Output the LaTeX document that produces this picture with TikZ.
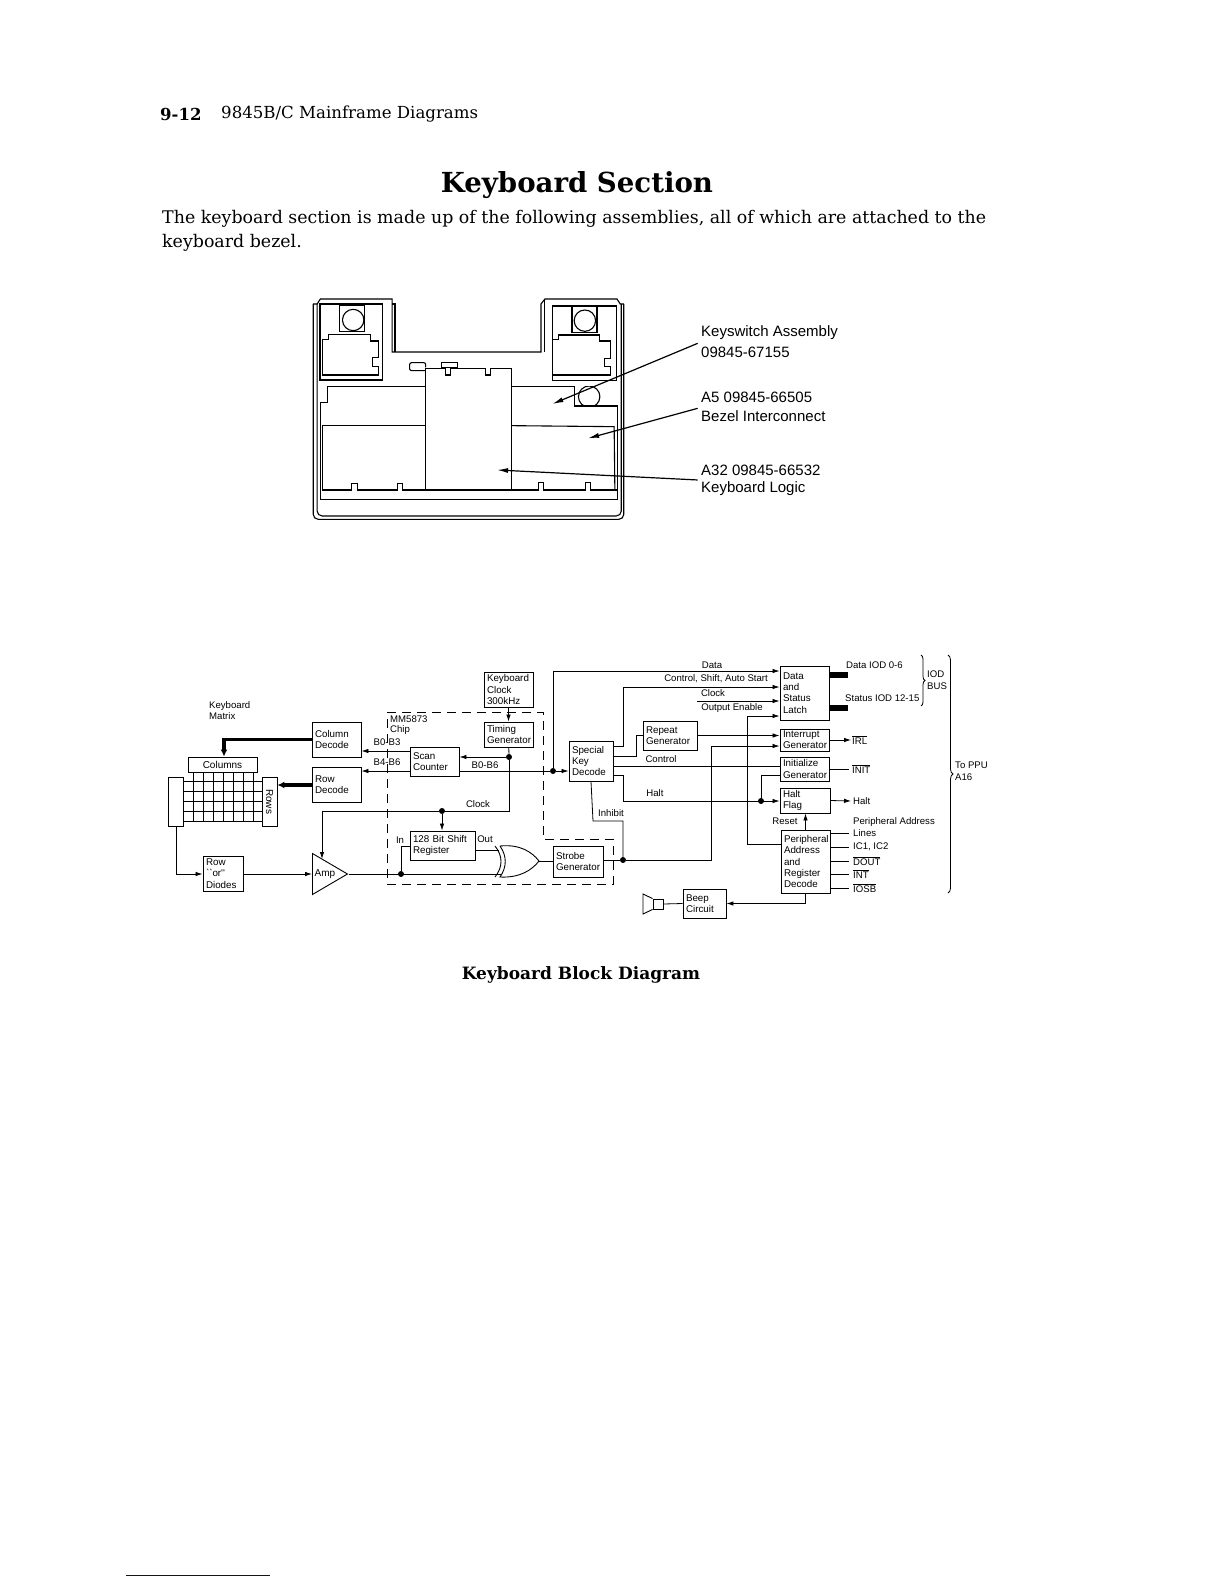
\documentclass[tikz,border=0pt]{standalone}
\usepackage{fontspec}
\setmainfont{DejaVu Serif}
\newfontfamily\labelfont{Liberation Sans}
\usetikzlibrary{arrows.meta,positioning,shapes.geometric,decorations.pathreplacing}
\tikzset{
  blockbox/.style 2 args={draw, line width=0.9pt, inner xsep=3pt, inner ysep=0pt, align=left, text width=#1pt-6pt, minimum height=#2pt, font=\labelfont\fontsize{9.8}{11.2}\selectfont},
  labelbox/.style={draw, line width=0.9pt, inner sep=0pt, font=\labelfont\fontsize{10}{11}\selectfont},
  lbl/.style={inner sep=0pt, font=\labelfont\fontsize{9.6}{11.5}\selectfont},
  callout/.style={inner sep=0pt, anchor=west, font=\labelfont\fontsize{15}{16}\selectfont},
  wire/.style={line width=0.8pt},
  arr/.style={line width=0.8pt, -{Latex[length=7pt,width=4.5pt]}},
  thickarr/.style={line width=3.2pt, -{Latex[length=7pt,width=7pt]}},
  dot/.style={circle, fill, inner sep=0pt, minimum size=6pt},
  leader/.style={line width=1.2pt, -{Latex[length=11pt,width=5pt]}}
}
\begin{document}
\begin{tikzpicture}[x=1pt,y=-1pt]
  \useasboundingbox (0,0) rectangle (1224,1584);

  % page text
  \node[anchor=west, inner sep=0pt, font=\bfseries\fontsize{16.5}{18}\selectfont] (pagenum) at (160,114) {9-12};
  \node[anchor=west, inner sep=0pt, font=\fontsize{16.6}{18}\selectfont] (pagehead) at (221,114) {9845B/C Mainframe Diagrams};
  \node[inner sep=0pt, font=\bfseries\fontsize{27.6}{30}\selectfont] (sectitle) at (577,185) {Keyboard Section};
  \node[anchor=west, inner sep=0pt, font=\fontsize{17.4}{20}\selectfont] (body1) at (162,219) {The keyboard section is made up of the following assemblies, all of which are attached to the};
  \node[anchor=west, inner sep=0pt, font=\fontsize{17.4}{20}\selectfont] (body2) at (162,243) {keyboard bezel.};
  \node[inner sep=0pt, font=\bfseries\fontsize{17}{20}\selectfont] (figtitle) at (581,975) {Keyboard Block Diagram};
  \draw[blue!70!black, line width=0.8pt] (126,1575) -- (270,1575);

  % bezel drawing
  \begin{scope}[shift={(290,280)}, x=0.357pt, y=-0.3333pt, line width=1.1pt]
    \draw[rounded corners=5pt] (65,72) -- (65,718) -- (935,718) -- (935,72);
    \draw[rounded corners=5pt] (76,72) -- (76,708) -- (928,708) -- (928,72);
    \draw (65,72) -- (76,72) -- (85,57) -- (286,57) -- (286,216) -- (703,216) -- (703,72) -- (714,57) -- (916,57) -- (925,72) -- (935,72);
    \draw (286,72) -- (294,72) -- (294,216);
    \draw (714,57) -- (714,216);
    \draw (84,72) rectangle (260,300);
    \draw (735,78) rectangle (915,302);
    \draw (138,75) rectangle (208,155);
    \draw (177,120) circle[x radius=30, y radius=32];
    \draw (790,78) rectangle (860,157);
    \draw (826,122) circle[x radius=30, y radius=32];
    \draw (92,285) -- (92,178) -- (108,178) -- (108,163) -- (225,163) -- (225,183) -- (247,183) -- (247,233) -- (232,233) -- (232,260) -- (247,260) -- (247,285) -- cycle;
    \draw (735,178) -- (752,178) -- (752,165) -- (868,165) -- (868,183) -- (897,183) -- (897,235) -- (880,235) -- (880,260) -- (897,260) -- (897,285) -- (735,285);
    \draw[rounded corners=2pt] (380,272) -- (335,272) -- (335,248) -- (380,248) -- (380,262);
    \draw (425,248) rectangle (470,262);
    \draw (380,630) -- (380,265) -- (436,265) -- (436,285) -- (450,285) -- (450,265) -- (548,265) -- (548,285) -- (562,285) -- (562,265) -- (620,265) -- (620,630);
    \draw (380,320) -- (105,320) -- (105,368) -- (85,368) -- (85,658) -- (918,658) -- (918,378) -- (797,378) -- (797,320) -- (620,320);
    \begin{scope}
      \clip (797,320) rectangle (918,378);
      \draw (838,350) circle[x radius=30, y radius=32];
    \end{scope}
    \draw (380,437) -- (92,437) -- (92,630) -- (172,630) -- (172,610) -- (188,610) -- (188,630) -- (300,630) -- (300,610) -- (316,610) -- (316,630) -- (695,630) -- (695,608) -- (710,608) -- (710,630) -- (828,630) -- (828,608) -- (842,608) -- (842,630) -- (918,630);
    \draw (620,437) -- (908,440) -- (910,630);
    \coordinate (swtip) at (735,372);
    \coordinate (a5tip) at (835,475);
    \coordinate (a32tip) at (580,570);
    \coordinate (swfoot) at (1142,190);
    \coordinate (a5foot) at (1142,385);
    \coordinate (a32foot) at (1142,600);
  \end{scope}
  \draw[leader] (swfoot) -- (swtip);
  \draw[leader] (a5foot) -- (a5tip);
  \draw[leader] (a32foot) -- (a32tip);
  \node[callout] (sw1) at (701,333) {Keyswitch Assembly};
  \node[callout] (sw2) at (701,352) {09845-67155};
  \node[callout] (a51) at (701,397) {A5 09845-66505};
  \node[callout] (a52) at (701,416) {Bezel Interconnect};
  \node[callout] (a321) at (701,470) {A32 09845-66532};
  \node[callout] (a322) at (701,489) {Keyboard Logic};

  % chip outline
  \draw[line width=0.8pt, dash pattern=on 9pt off 6pt] (387,712) -- (543,712) -- (543,839) -- (613,839) -- (613,884) -- (387,884) -- cycle;

  % blocks
  \node[blockbox={49}{35}] (kbclock) at (508.5,689.5) {Keyboard\\Clock\\300kHz};
  \node[blockbox={49}{25}] (timing) at (508.5,734.5) {Timing\\Generator};
  \node[blockbox={49}{35}] (coldec) at (336.5,739.5) {Column\\Decode};
  \node[blockbox={49}{35}] (rowdec) at (336.5,784.5) {Row\\Decode};
  \node[blockbox={49}{29}] (scan) at (434.5,761.5) {Scan\\Counter};
  \node[labelbox, minimum width=69pt, minimum height=15pt] (columns) at (222.5,764.5) {Columns};
  \node[labelbox, minimum width=49pt, minimum height=15pt, rotate=-90] (rows) at (269.5,801.5) {Rows};
  \node[labelbox, minimum width=15pt, minimum height=49pt] (leftbar) at (175.5,801.5) {};
  \node[blockbox={40}{35}] (diodes) at (223,873.5) {Row\\``or''\\Diodes};
  \node[draw, line width=0.9pt, isosceles triangle, isosceles triangle stretches, minimum width=41pt, minimum height=35pt, inner sep=0pt, anchor=lower side, font=\labelfont\fontsize{10}{11}\selectfont] (amp) at (312,874) {Amp};
  \node[blockbox={65}{29}] (shiftreg) at (442.5,845.5) {128 Bit Shift\\Register};
  \node[blockbox={50}{31}] (strobe) at (578,861.5) {Strobe\\Generator};
  \node[blockbox={44}{40}] (special) at (591,761) {Special\\Key\\Decode};
  \node[blockbox={54}{29}] (repeat) at (670,735.5) {Repeat\\Generator};
  \node[blockbox={49}{54}] (latch) at (804.5,693) {Data\\and\\Status\\Latch};
  \node[blockbox={49}{22}] (interrupt) at (804.5,740) {Interrupt\\Generator};
  \node[blockbox={49}{24}] (initgen) at (804.5,769) {Initialize\\Generator};
  \node[blockbox={50}{25}] (haltflag) at (805,800.5) {Halt\\Flag};
  \node[blockbox={49}{63}] (periph) at (805.5,861.5) {Peripheral\\Address\\and\\Register\\Decode};
  \node[blockbox={43}{29}] (beep) at (704.5,903.5) {Beep\\Circuit};
  \node[draw, line width=0.9pt, inner sep=0pt, minimum size=10pt] (speaker) at (658,904) {};
  \draw[line width=0.9pt] (speaker.north west) -- (643,894) -- (643,914) -- (speaker.south west);

  % matrix grid
  \foreach \gx in {193,203,...,253}
    \draw[wire] (\gx,772) -- (\gx,822);
  \foreach \gy in {781,791,...,821}
    \draw[wire] (183,\gy) -- (262,\gy);

  % junctions
  \node[dot] (jtiming) at (509,757) {};
  \node[dot] (jclock) at (442,811) {};
  \node[dot] (jamp) at (401,874) {};
  \node[dot] (jscan) at (553,771) {};
  \node[dot] (jstrobe) at (623,860) {};
  \node[dot] (jhalt) at (761,801) {};

  % xor gate
  \coordinate (xorup) at (499,850);
  \coordinate (xordown) at (501,874);
  \coordinate (xorout) at (539,861);
  \draw[line width=0.9pt] (500,846) .. controls (520,844) and (532,852) .. (xorout) .. controls (532,870) and (520,878) .. (500,877) .. controls (507,867) and (507,856) .. (500,846);
  \draw[line width=0.9pt] (495,846) .. controls (503,856) and (503,867) .. (495,877);

  % connectors, left half
  \draw[arr] (kbclock) -- (timing);
  \draw[wire] (timing) -- (jtiming);
  \draw[arr] (jtiming) -- (jtiming -| scan.east);
  \draw[arr] (scan.west |- 0,751) -- (coldec.east |- 0,751);
  \draw[arr] (scan.west |- 0,771) -- (rowdec.east |- 0,771);
  \draw[wire] (scan.east |- jscan) -- (jscan);
  \draw[arr] (jscan) -- (special.west |- jscan);
  \draw[wire] (jtiming) |- (jclock);
  \coordinate (ampclk) at (322,859);
  \draw[arr] (jclock) -| (ampclk);
  \draw[arr] (jclock) -- (jclock |- shiftreg.north);
  \draw[thickarr] (coldec.west) -| (columns.north -| 224,0);
  \draw[thickarr] (rowdec.west |- 0,785) -- (rows.north |- 0,785);
  \coordinate (barfoot) at (176,826);
  \draw[arr] (barfoot) |- (diodes.west |- 0,874);
  \draw[arr] (diodes.east |- 0,874) -- (amp.lower side);
  \draw[wire] (amp.apex) -- (xordown);
  \draw[wire] (shiftreg.east |- xorup) -- (xorup);
  \draw[wire] (jamp) |- (shiftreg.west |- 0,846);
  \draw[wire] (xorout) -- (strobe.west |- xorout);

  % connectors, right half
  \draw[arr] (jscan) |- (latch.west |- 0,671);
  \draw[arr] (special.east |- 0,746) -- (623,746) |- (latch.west |- 0,687);
  \coordinate (clockfoot) at (697,701);
  \draw[arr] (clockfoot) -- (latch.west |- clockfoot);
  \draw[wire] (special.east |- 0,756) -- (636,756) |- (repeat.west);
  \draw[arr] (repeat.east) -- (interrupt.west |- repeat.east);
  \draw[wire] (special.east |- 0,766) -- (initgen.west |- 0,766);
  \draw[arr] (special.east |- 0,775) -- (623,775) |- (haltflag.west |- jhalt);
  \draw[wire] (jhalt) |- (initgen.west |- 0,775);
  \draw[wire] (special.south |- special.south) -- (593,821) -| (jstrobe);
  \draw[wire] (strobe.east |- jstrobe) -- (jstrobe);
  \draw[arr] (jstrobe) -| (711,746) -- (interrupt.west |- 0,746);
  \draw[arr] (periph.west |- 0,844) -| (747,716) -- (latch.west |- 0,716);
  \draw[arr] (periph.north) -- (haltflag.south -| periph.north);
  \draw[arr] (periph.south) |- (beep.east);
  \draw[wire] (beep.west) -- (speaker.east);

  % outputs
  \draw[line width=6pt] (latch.east |- 0,675) -- (848,675);
  \draw[line width=6pt] (latch.east |- 0,708) -- (848,708);
  \draw[arr] (interrupt.east) -- (851,740);
  \draw[wire] (initgen.east) -- (849,769);
  \draw[arr] (haltflag.east) -- (851,801);
  \foreach \py in {833,847,861,874,888}
    \draw[wire] (periph.east |- 0,\py) -- (849,\py);

  % braces
  \draw[line width=0.8pt, decorate, decoration={brace, amplitude=4pt}] (921,655) -- (921,706);
  \draw[line width=0.8pt, decorate, decoration={brace, amplitude=5pt}] (948,655) -- (948,893);

  % labels
  \node[lbl, align=left, anchor=north west] (kbmatrix) at (209,701) {Keyboard\\Matrix};
  \node[lbl, anchor=west] (mmlabel) at (390,719) {MM5873};
  \node[lbl, anchor=west] (chiplabel) at (390,730) {Chip};
  \node[lbl] (b0b3) at (387,742) {B0-B3};
  \node[lbl] (b4b6) at (387,762) {B4-B6};
  \node[lbl] (b0b6) at (485,765) {B0-B6};
  \node[lbl] (clocklabel) at (478,804) {Clock};
  \node[lbl] (inlabel) at (400,840) {In};
  \node[lbl] (outlabel) at (485,839) {Out};
  \node[lbl] (datalabel) at (712,665) {Data};
  \node[lbl, anchor=east] (ctrlshift) at (768,679) {Control, Shift, Auto Start};
  \node[lbl] (clocktop) at (713,693) {Clock};
  \node[lbl] (outen) at (732,708) {Output Enable};
  \node[lbl] (ctrllabel) at (661,759) {Control};
  \node[lbl] (haltlabel) at (655,793) {Halt};
  \node[lbl] (inhibit) at (611,813) {Inhibit};
  \node[lbl] (reset) at (785,821) {Reset};
  \node[lbl, anchor=west] (dataiod) at (846,665) {Data IOD 0-6};
  \node[lbl, anchor=west] (statusiod) at (845,698) {Status IOD 12-15};
  \node[lbl, align=left, anchor=west] (iodbus) at (927,680) {IOD\\BUS};
  \node[lbl, align=left, anchor=west] (toppu) at (955,771) {To PPU\\A16};
  \node[lbl, anchor=west] (irl) at (852,740) {$\overline{\hbox{IRL}}$};
  \node[lbl, anchor=west] (initout) at (852,769) {$\overline{\hbox{INIT}}$};
  \node[lbl, anchor=west] (haltout) at (853,801) {Halt};
  \node[lbl, anchor=west] (periphaddr) at (853,822) {Peripheral Address};
  \node[lbl, anchor=west] (lineslabel) at (853,833) {Lines};
  \node[lbl, anchor=west] (iclabel) at (853,847) {IC1, IC2};
  \node[lbl, anchor=west] (doutlabel) at (853,861) {$\overline{\hbox{DOUT}}$};
  \node[lbl, anchor=west] (intlabel) at (853,874) {$\overline{\hbox{INT}}$};
  \node[lbl, anchor=west] (iosblabel) at (853,888) {$\overline{\hbox{IOSB}}$};
\end{tikzpicture}
\end{document}
